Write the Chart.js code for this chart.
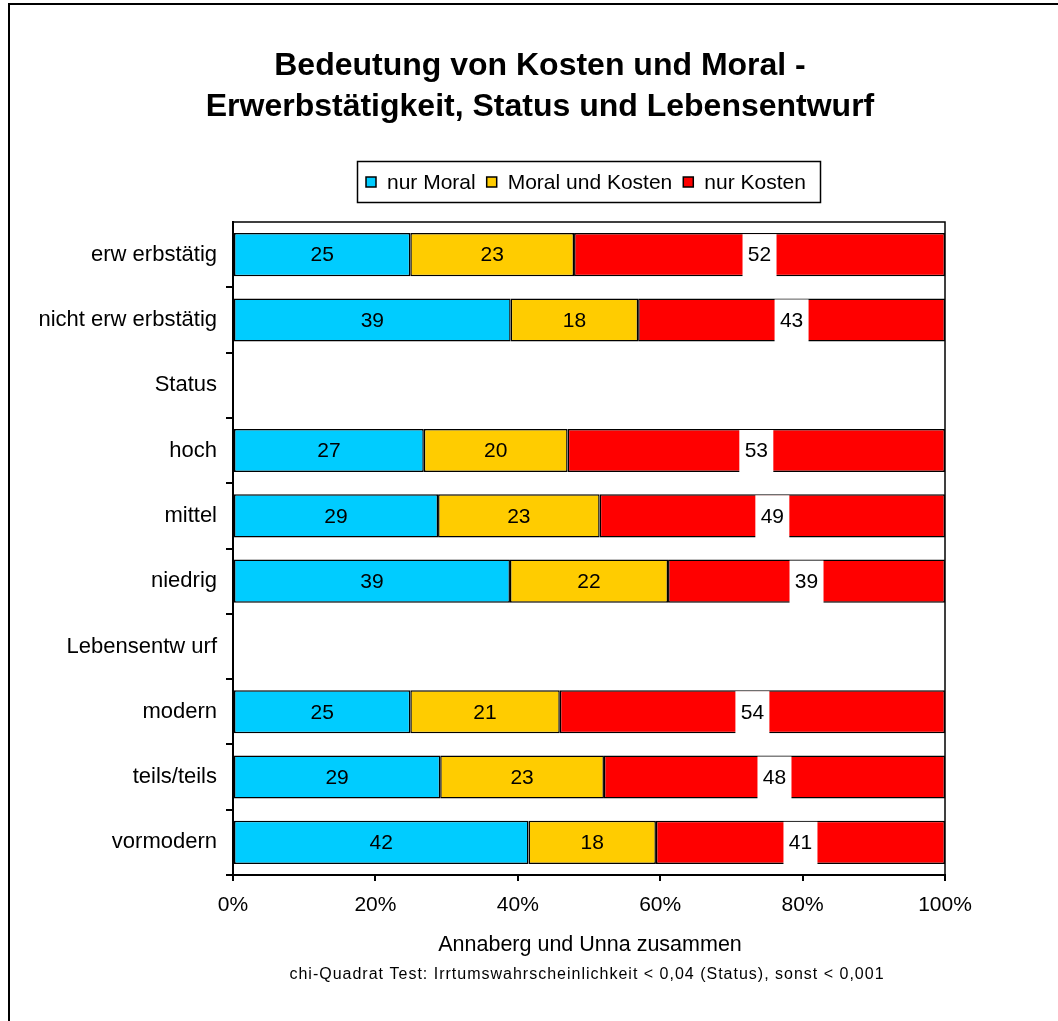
<!DOCTYPE html>
<html>
<head>
<meta charset="utf-8">
<script src="https://cdn.jsdelivr.net/npm/chart.js@4.4.0/dist/chart.umd.min.js"></script>
<style>
  body { margin: 0; background: #fff; }
</style>
</head>
<body>
<canvas id="barCanvas" width="1058" height="1021"></canvas>
<script>
// daten (prozent)
const categories = ["erw erbstätig", "nicht erw erbstätig", "Status", "hoch", "mittel", "niedrig",
                    "Lebensentw urf", "modern", "teils/teils", "vormodern"];
const nurMoral       = [24.9, 39.0, null, 26.8, 28.8, 38.9, null, 24.9, 29.1, 41.5];
const moralUndKosten = [23.0, 17.9, null, 20.2, 22.7, 22.2, null, 21.0, 23.0, 17.9];
const nurKosten      = [52.1, 43.1, null, 53.0, 48.5, 38.9, null, 54.1, 47.9, 40.6];
const seriesNames = ["nur Moral", "Moral und Kosten", "nur Kosten"];
const seriesColors = ["#00CCFF", "#FFCC00", "#FF0000"];
const xTickLabels = ["0%", "20%", "40%", "60%", "80%", "100%"];
const titleLines = ["Bedeutung von Kosten und Moral -", "Erwerbstätigkeit, Status und Lebensentwurf"];
const xTitle = "Annaberg und Unna zusammen";
const footnote = "chi-Quadrat Test: Irrtumswahrscheinlichkeit < 0,04 (Status), sonst < 0,001";

const FONT = "'Liberation Sans', Arial, sans-serif";

// titel, legende, rahmen, werte in den balken
const decor = {
  id: "decor",
  afterDatasetsDraw(chart) {
    const ctx = chart.ctx;
    ctx.save();
    ctx.font = "21px " + FONT;
    ctx.textAlign = "center";
    ctx.textBaseline = "middle";
    chart.data.datasets.forEach((ds, i) => {
      const meta = chart.getDatasetMeta(i);
      meta.data.forEach((bar, j) => {
        const v = ds.data[j];
        if (v == null) return;
        const p = bar.getProps(["x", "y", "base", "height"], true);
        const cx = (p.x + p.base) / 2;
        if (i === 2) {
          ctx.fillStyle = "#fff";
          ctx.fillRect(cx - 17, p.y - p.height / 2 + 1, 34, p.height + 1);
        }
        ctx.fillStyle = "#000";
        ctx.fillText(String(Math.round(v)), cx, p.y + 1);
      });
    });
    ctx.restore();
  },
  afterDraw(chart) {
    const ctx = chart.ctx;
    const a = chart.chartArea;
    ctx.save();
    // rahmen um plotfläche
    ctx.strokeStyle = "#000";
    ctx.lineWidth = 1.5;
    ctx.strokeRect(a.left, a.top, a.right - a.left, a.bottom - a.top);
    // äußerer rahmen (nur links und oben sichtbar)
    ctx.lineWidth = 2;
    ctx.beginPath();
    ctx.moveTo(9, 1021);
    ctx.lineTo(9, 4);
    ctx.lineTo(1058, 4);
    ctx.stroke();
    // titel
    ctx.fillStyle = "#000";
    ctx.textAlign = "center";
    ctx.textBaseline = "middle";
    ctx.font = "bold 32px " + FONT;
    ctx.fillText(titleLines[0], 540, 66);
    ctx.fillText(titleLines[1], 540, 107);
    // legende
    ctx.lineWidth = 1.5;
    ctx.strokeRect(357.5, 161.5, 463, 41);
    ctx.font = "21px " + FONT;
    ctx.textAlign = "left";
    let x = 366;
    seriesNames.forEach((name, i) => {
      ctx.fillStyle = seriesColors[i];
      ctx.fillRect(x, 177, 10, 10);
      ctx.strokeRect(x, 177, 10, 10);
      ctx.fillStyle = "#000";
      ctx.fillText(name, x + 21, 183);
      x += 21 + ctx.measureText(name).width + 11;
    });
    // achsentitel + fußnote
    ctx.textAlign = "center";
    ctx.font = "21.5px " + FONT;
    ctx.fillText(xTitle, 590, 945);
    ctx.font = "16px " + FONT;
    ctx.letterSpacing = "1px";
    ctx.fillText(footnote, 587, 975);
    ctx.restore();
  }
};

const barChart = new Chart(document.getElementById("barCanvas"), {
  type: "bar",
  data: {
    labels: categories,
    datasets: [nurMoral, moralUndKosten, nurKosten].map((d, i) => ({
      label: seriesNames[i],
      data: d,
      backgroundColor: seriesColors[i],
      borderColor: "#000",
      borderWidth: 1.5,
      borderSkipped: false,
      barPercentage: 0.66,
      categoryPercentage: 1
    }))
  },
  options: {
    responsive: false,
    animation: false,
    indexAxis: "y",
    layout: { padding: { top: 222, right: 113, left: 0, bottom: 0 } },
    plugins: {
      legend: { display: false },
      title: { display: false },
      tooltip: { enabled: false }
    },
    scales: {
      x: {
        stacked: true,
        min: 0,
        max: 100,
        ticks: {
          stepSize: 20,
          callback: (v, i) => xTickLabels[i],
          font: { family: FONT, size: 21 },
          color: "#000",
          padding: 12
        },
        grid: { drawOnChartArea: false, tickLength: 6, color: "#000", lineWidth: 2 },
        border: { color: "#000", width: 2 },
        afterFit(s) { s.height = 146; }
      },
      y: {
        stacked: true,
        ticks: { font: { family: FONT, size: 22 }, color: "#000", padding: 9 },
        grid: {
          drawOnChartArea: false,
          tickLength: 7,
          // kein strich ganz oben
          color: (c) => c.index === 0 ? "rgba(0,0,0,0)" : "#000",
          lineWidth: 2,
          offset: true
        },
        border: { color: "#000", width: 2 },
        afterFit(s) { s.width = 233; }
      }
    }
  },
  plugins: [decor]
});
</script>
</body>
</html>
